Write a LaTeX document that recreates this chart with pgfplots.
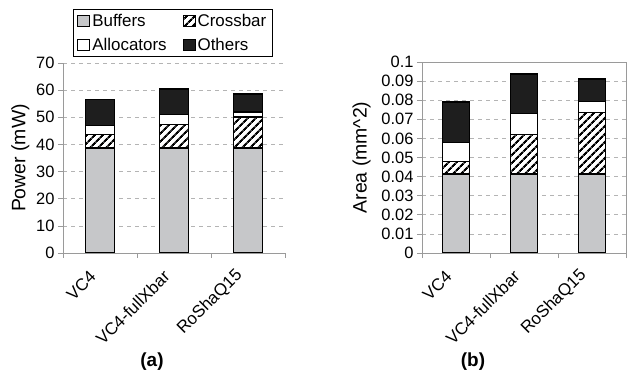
\documentclass[border=0pt]{standalone}
\usepackage{pgfplots}
\pgfplotsset{compat=1.18}
\usepackage{fontspec}
\setmainfont{Liberation Sans}
\usetikzlibrary{patterns.meta}

\definecolor{bufgray}{HTML}{C6C7C9}
\definecolor{othblk}{HTML}{1E1E1E}
\definecolor{axgray}{HTML}{9A9A9A}
\definecolor{gridgray}{HTML}{B4B4B4}

\pgfplotsset{
  mybars/.style={
    ybar stacked, bar width=0.4, scale only axis,
    xmin=-0.5, xmax=2.5, ymin=0,
    xtick={0,1,2}, xticklabels={VC4,VC4-fullXbar,RoShaQ15},
    major x tick style={draw=none},
    minor xtick={-0.5,0.5,1.5,2.5},
    minor x tick style={draw=axgray, line width=0.6bp},
    y tick style={draw=axgray, line width=0.6bp},
    minor tick length=5bp, major tick length=5bp,
    tick align=outside, xtick pos=bottom, ytick pos=left,
    xticklabel style={xshift=2bp, yshift=-20bp, rotate=45, anchor=south east, font=\fontsize{17}{20}\selectfont},
    yticklabel style={font=\fontsize{16.5}{19}\selectfont},
    ylabel style={font=\fontsize{19.5}{22}\selectfont},
    ymajorgrids, grid style={draw=gridgray, dash pattern=on 4bp off 4bp, line width=0.6bp},
    axis line style={draw=axgray, line width=0.8bp},
    /pgf/number format/assume math mode=true,
    scaled y ticks=false,
    legend image code/.code={\draw[#1, line width=0.9bp] (0bp,-5.5bp) rectangle (12bp,5.5bp);},
  },
  buf/.style={draw=black, line width=1.3bp, fill=bufgray},
  xb/.style={draw=black, line width=1.3bp, fill=white, postaction={pattern={Lines[angle=45,distance=6bp,line width=2.4bp]}, pattern color=black}},
  alc/.style={draw=black, line width=1.3bp, fill=white},
  oth/.style={draw=black, line width=1.3bp, fill=othblk},
}

\begin{document}
\begin{tikzpicture}
\useasboundingbox (0,0) rectangle (628bp,379bp);

\begin{axis}[mybars,
  at={(63bp,126bp)}, anchor=south west,
  width=222bp, height=190bp,
  ymax=70, ytick={0,10,...,70},
  axis x line*=bottom, axis y line*=left, axis line style={-},
  ylabel={Power (mW)},
  legend columns=2,
  legend style={at={(0.495,1.285)}, anchor=north, draw=black, line width=0.9bp,
    font=\fontsize{17}{20}\selectfont, /tikz/every even column/.append style={column sep=14bp},
    row sep=6bp,
    cells={anchor=west}, inner xsep=4bp, inner ysep=3bp},
]
\addplot[buf] coordinates {(0,38.7) (1,38.7) (2,38.7)};
\addplot[xb] coordinates {(0,4.9) (1,8.6) (2,11.4)};
\addplot[alc] coordinates {(0,3.3) (1,3.7) (2,1.8)};
\addplot[oth] coordinates {(0,9.6) (1,9.4) (2,6.7)};
\legend{Buffers,Crossbar,Allocators,Others}
\end{axis}

\begin{axis}[mybars,
  at={(422bp,126bp)}, anchor=south west,
  width=204bp, height=191bp,
  ymax=0.1, ytick={0,0.01,0.02,0.03,0.04,0.05,0.06,0.07,0.08,0.09,0.1},
  yticklabel style={/pgf/number format/fixed, /pgf/number format/precision=2},
  ylabel={Area (mm\textasciicircum 2)}, ylabel shift=4bp,
]
\addplot[buf] coordinates {(0,0.0413) (1,0.0413) (2,0.0413)};
\addplot[xb] coordinates {(0,0.0065) (1,0.0209) (2,0.0324)};
\addplot[alc] coordinates {(0,0.0102) (1,0.0107) (2,0.0058)};
\addplot[oth] coordinates {(0,0.0210) (1,0.0208) (2,0.0116)};
\end{axis}

\node[font=\bfseries\fontsize{19}{22}\selectfont] at (152bp,17bp) {(a)};
\node[font=\bfseries\fontsize{19}{22}\selectfont] at (473bp,17bp) {(b)};
\end{tikzpicture}
\end{document}
